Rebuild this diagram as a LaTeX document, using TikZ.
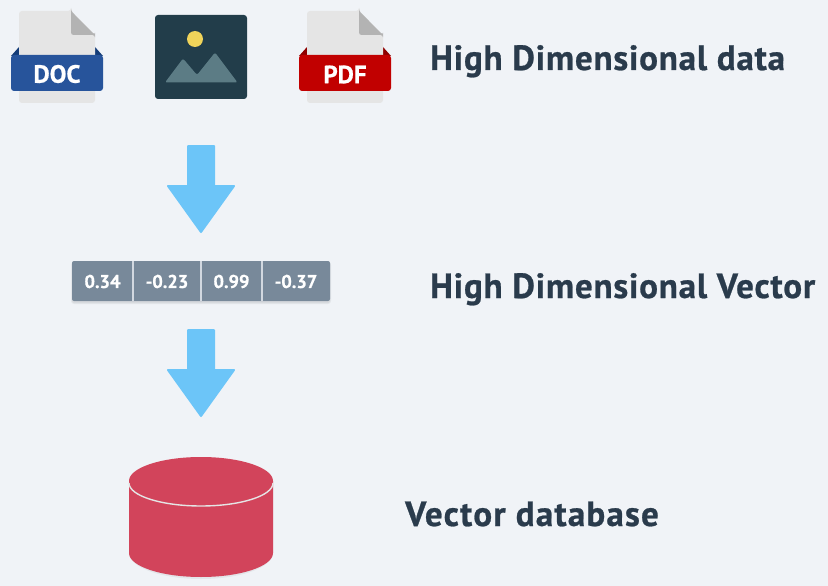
\documentclass[tikz,border=0pt]{standalone}
\usepackage{fontspec}
\setmainfont{TeX Gyre Heros}
\newfontfamily\titlefont[BoldFont={PT Sans Bold},BoldFeatures={FakeBold=0.7}]{PT Sans}
\newfontfamily\widefont[BoldFont={PT Sans Bold},BoldFeatures={FakeBold=0.7,LetterSpace=2.3}]{PT Sans}
\newfontfamily\widerfont[BoldFont={PT Sans Bold},BoldFeatures={FakeBold=0.7,LetterSpace=3.5}]{PT Sans}
\definecolor{bgc}{HTML}{F0F3F7}
\definecolor{titlec}{HTML}{2A3B4C}
\definecolor{pagec}{HTML}{E5E5E5}
\definecolor{foldc}{HTML}{B3B3B3}
\definecolor{docc}{HTML}{27549B}
\definecolor{docd}{HTML}{143C78}
\definecolor{pdfc}{HTML}{C10000}
\definecolor{pdfd}{HTML}{8F0000}
\definecolor{imgc}{HTML}{223D4A}
\definecolor{mtc}{HTML}{5C7C85}
\definecolor{sunc}{HTML}{F0D45A}
\definecolor{arrowc}{HTML}{6CC5F8}
\definecolor{vecc}{HTML}{78899A}
\definecolor{dbc}{HTML}{D2445B}
\tikzset{
  title/.style={anchor=base west,text=titlec,font=\widefont\fontsize{35}{38}\selectfont\bfseries,inner sep=0pt},
  titlewide/.style={title,font=\widerfont\fontsize{35}{38}\selectfont\bfseries},
  cell/.style={text=white,font=\titlefont\fontsize{18.5}{20}\selectfont\bfseries,inner sep=0pt,anchor=center},
  badge/.style={text=white,font=\titlefont\fontsize{25}{26}\selectfont\bfseries,inner sep=0pt,anchor=center},
  blockarrow/.style={fill=arrowc,draw=arrowc,line width=2pt,line join=round}
}
\newcommand{\fileicon}[3]{%
  \begin{scope}[xshift=#1]
    \fill[#3] (11,56) -- (19,47) -- (19,56) -- cycle;
    \fill[#3] (103,56) -- (95,47) -- (95,56) -- cycle;
    \fill[pagec,rounded corners=3pt] (19,103) -- (19,11) -- (71,11) -- (71,11) -- (95,35) -- (95,103) -- cycle;
    \fill[foldc,rounded corners=2.5pt] (71,11) -- (71,35) -- (95,35) -- (95,35.01) -- (71,11) -- cycle;
    \fill[#2,rounded corners=3pt] (11,55) rectangle (103,91);
  \end{scope}}
\begin{document}
\begin{tikzpicture}[x=1pt,y=-1pt]
\useasboundingbox (0,0) rectangle (828,586);
\fill[bgc] (0,0) rectangle (828,586);
% file icons
\fileicon{0pt}{docc}{docd}
\fileicon{288pt}{pdfc}{pdfd}
\node[badge] (doclabel) at (57,74) {DOC};
\node[badge] (pdflabel) at (345,74.5) {PDF};
% image icon
\fill[imgc,rounded corners=3pt] (155,15) rectangle (247,99);
\fill[sunc] (195,39) circle (8);
\fill[mtc,rounded corners=2pt] (165,82.5) -- (183,58.5) -- (197,75) -- (215,52.5) -- (237.5,82.5) -- cycle;
% arrows
\fill[blockarrow] (188,146) -- (214,146) -- (214,186) -- (234,186) -- (201,232) -- (168,186) -- (188,186) -- cycle;
\fill[blockarrow] (188,330) -- (214,330) -- (214,370) -- (234,370) -- (201,416) -- (168,370) -- (188,370) -- cycle;
% vector
\fill[black,opacity=.05,rounded corners=3pt] (71,262) rectangle (331,304);
\fill[black,opacity=.05,rounded corners=2pt] (72,262) rectangle (330,303);
\fill[vecc,rounded corners=2pt] (72,261) rectangle (330,301);
\draw[line width=2pt,bgc!75!vecc] (133,261) -- (133,301) (201,261) -- (201,301) (262,261) -- (262,301);
\node[cell] (v1) at (102.5,281.5) {0.34};
\node[cell] (v2) at (167,281.5) {-0.23};
\node[cell] (v3) at (231.5,281.5) {0.99};
\node[cell] (v4) at (296,281.5) {-0.37};
% database
\fill[black,opacity=.05] (129,484) -- (129,553) arc[start angle=180,end angle=0,x radius=72,y radius=26] -- (273,484) -- cycle;
\fill[dbc] (129,481) -- (129,553) arc[start angle=180,end angle=0,x radius=72,y radius=24] -- (273,481) -- cycle;
\fill[dbc] (201,481) ellipse[x radius=72,y radius=24];
\draw[line width=1.4pt,pagec] (129,483) arc[start angle=180,end angle=0,x radius=72,y radius=23];
% titles
\node[title] (t1) at (430,70) {High Dimensional data};
\node[title] (t2) at (430,298) {High Dimensional Vector};
\node[titlewide] (t3) at (405,526) {Vector database};
\end{tikzpicture}
\end{document}
